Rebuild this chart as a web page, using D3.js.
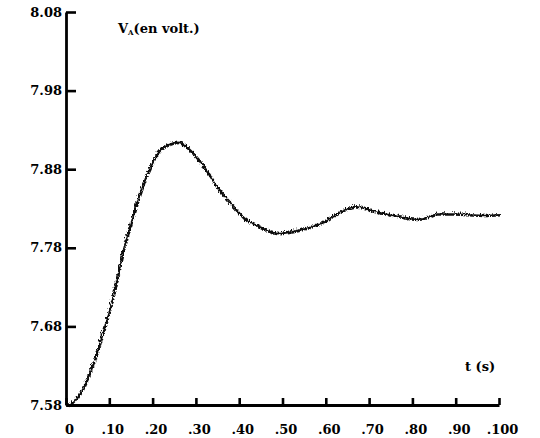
<!DOCTYPE html>
<html>
<head>
<meta charset="utf-8">
<script src="https://cdn.jsdelivr.net/npm/d3@7"></script>
<style>
  body { margin: 0; background: #fff; }
  svg { display: block; }
  text { font-family: "DejaVu Serif", serif; font-weight: bold; fill: #000; }
</style>
</head>
<body>
<svg id="chart" width="540" height="438"></svg>
<script>
// time (s) and voltage V_A (volt)
const times = [0, 0.005, 0.032, 0.062, 0.083, 0.097, 0.113, 0.132, 0.15, 0.165, 0.18, 0.195, 0.21,
    0.233, 0.256, 0.279, 0.303, 0.326, 0.349, 0.379, 0.409, 0.441, 0.487, 0.54, 0.587, 0.633, 0.667,
    0.709, 0.76, 0.81, 0.835, 0.855, 0.89, 0.926, 0.96, 1.0]
const volts = [7.581, 7.582, 7.599, 7.637, 7.675, 7.701, 7.737, 7.784, 7.818, 7.846, 7.869, 7.888, 7.903,
    7.913, 7.916, 7.908, 7.894, 7.876, 7.857, 7.837, 7.819, 7.809, 7.8, 7.805, 7.813, 7.828, 7.834,
    7.828, 7.822, 7.818, 7.821, 7.825, 7.825, 7.824, 7.823, 7.824]

const xTicks = [0, 0.1, 0.2, 0.3, 0.4, 0.5, 0.6, 0.7, 0.8, 0.9, 1.0]
const xTickLabels = ['0', '.10', '.20', '.30', '.40', '.50', '.60', '.70', '.80', '.90', '.100']
const yTicks = [7.58, 7.68, 7.78, 7.88, 7.98, 8.08]

function drawAxes(chart, x, y) {
    const yAxis = d3.axisLeft(y)
        .tickValues(yTicks)
        .tickFormat(d3.format('.2f'))
        .tickSizeInner(-10)
        .tickSizeOuter(0)
        .tickPadding(4)

    const xAxis = d3.axisBottom(x)
        .tickValues(xTicks)
        .tickFormat((d, i) => xTickLabels[i])
        .tickSizeInner(-7)
        .tickSizeOuter(0)
        .tickPadding(20)

    const gy = chart.append('g')
        .attr('transform', `translate(${x(0)},0)`)
        .call(yAxis)
    const gx = chart.append('g')
        .attr('transform', `translate(0,${y(7.58)})`)
        .call(xAxis)

    for (const g of [gx, gy]) {
        g.attr('font-family', null).attr('font-size', null)
        g.select('.domain').attr('stroke', '#000').attr('stroke-width', 2.8)
        g.selectAll('.tick line').attr('stroke', '#000').attr('stroke-width', 2.6)
        g.selectAll('.tick text').style('font-size', '13px')
    }
    gy.selectAll('.tick text').attr('x', -4)
    gx.selectAll('.tick text').attr('dx', 3)
}

function drawTrace(chart, x, y) {
    const defs = chart.append('defs')
    const f = defs.append('filter')
        .attr('id', 'ripple')
        .attr('x', '-5%').attr('y', '-5%')
        .attr('width', '110%').attr('height', '110%')
    f.append('feTurbulence')
        .attr('type', 'turbulence')
        .attr('baseFrequency', '0.55 0.3')
        .attr('numOctaves', 1)
        .attr('seed', 3)
        .attr('result', 'noise')
    f.append('feDisplacementMap')
        .attr('in', 'SourceGraphic')
        .attr('in2', 'noise')
        .attr('scale', 4.5)
        .attr('xChannelSelector', 'R')
        .attr('yChannelSelector', 'G')

    const line = d3.line()
        .x((d, i) => x(times[i]))
        .y(d => y(d))
        .curve(d3.curveMonotoneX)

    chart.append('path')
        .datum(volts)
        .attr('d', line)
        .attr('fill', 'none')
        .attr('stroke', '#111')
        .attr('stroke-width', 2.6)
        .attr('filter', 'url(#ripple)')
}

function drawLabels(chart) {
    chart.append('text')
        .attr('x', 75)
        .attr('y', -3)
        .style('font-size', '14px')
        .text('Réponse pour p=1 puis p=0 (cf. figure)')

    const v = chart.append('text')
        .attr('x', 118)
        .attr('y', 33)
        .style('font-size', '13px')
    v.append('tspan').text('V')
    v.append('tspan').attr('dy', 2).style('font-size', '7px').text('A')
    v.append('tspan').attr('dy', -2).text('(en volt.)')

    chart.append('text')
        .attr('x', 465)
        .attr('y', 371)
        .style('font-size', '13px')
        .text('t (s)')
}

function main() {
    const chart = d3.select('#chart')
    const x = d3.scaleLinear().domain([0, 1.0]).range([66, 499])
    const y = d3.scaleLinear().domain([7.58, 8.08]).range([405, 12])

    drawTrace(chart, x, y)
    drawAxes(chart, x, y)
    drawLabels(chart)
}

main()
</script>
</body>
</html>
